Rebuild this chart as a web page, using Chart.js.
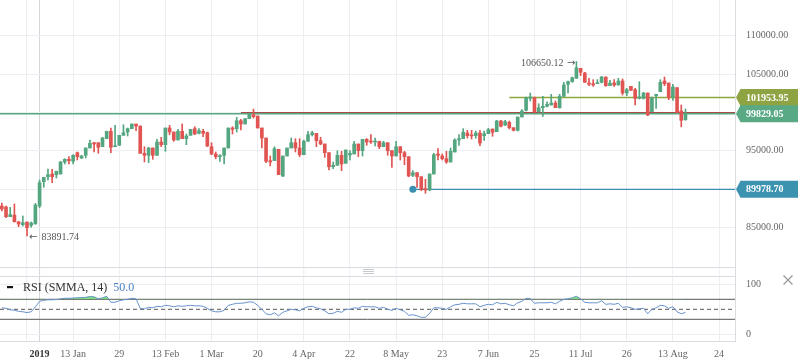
<!DOCTYPE html>
<html><head><meta charset="utf-8">
<script src="https://cdn.jsdelivr.net/npm/chart.js@4.4.1/dist/chart.umd.min.js"></script>
<style>
html,body{margin:0;padding:0;background:#fff;width:798px;height:363px;overflow:hidden}
canvas{position:absolute;left:0;display:block}
#c1{top:0}
#c2{top:268px}
</style></head><body>
<canvas id="c1" width="798" height="268"></canvas>
<canvas id="c2" width="798" height="95"></canvas>
<script>
// ---------- DATA ----------
const FIRST_INDEX = -9; // bar index of first candle (index 0 = first session of 2019)
const opens = [87807,87677,86413,86634,85761,85370,85722,85291,85461,
87807,90976,91628,91980,91889,91980,93545,93897,93636,94758,
94067,94419,95371,96062,96062,95541,96584,97549,95541,95723,
97027,97457,97887,98500,98240,94680,94419,95371,94419,96153,
95801,97979,97457,96414,97549,96584,97027,97887,97287,97549,
97366,95541,94588,94236,94419,95371,97979,97887,98931,98500,
99192,99713,99544,97979,96675,93715,93715,95202,91720,94328,
95371,96062,95371,94497,96245,97105,97287,96323,95892,94758,
92932,93115,94419,93376,94458,94588,95892,95019,96506,96245,
96153,96245,95541,96062,95019,94328,95541,94758,94236,91811,
92150,91628,90064,89894,91980,94588,94328,93975,93545,94849,
96414,96584,97327,97000,96975,97327,96975,97235,97848,97496,
98892,98370,98722,98017,97679,99413,100287,101852,101930,100105,
100626,100809,100978,101239,100626,102113,103677,104017,104460,105764,
105151,103847,103756,103756,103938,104629,103495,103847,103586,104108,
102543,103416,102973,101852,101852,102543,100105,102191,102713,104108,
103847,102021,103234,100196,99061];
const highs = [88199,87807,87630,88068,85761,86504,85722,85722,88150,
91198,91550,92632,92593,92370,93636,93975,94236,94497,94849,
94419,95371,96414,96062,96062,96767,97549,97979,98331,97027,
98409,97979,98500,98500,98240,95541,95463,95371,96506,96767,
97979,98331,97457,97809,98500,97196,97809,98148,97887,97809,
97457,96062,94849,94497,95371,97979,98148,99374,99113,99192,
99900,100438,99544,97979,96675,94328,95541,95202,94328,95371,
96675,96584,96584,96414,97549,97549,97287,96767,95892,94758,
93545,95019,94940,95110,95019,96245,95892,96506,96584,97105,
96675,96245,96245,96062,95019,96245,95541,94940,94236,92411,
92150,91628,91290,91980,94680,95280,94588,94940,95371,96584,
97105,97887,97679,97679,97587,97679,97587,97940,97848,98983,
98983,98983,98892,98017,99413,100365,102021,102543,102021,101148,
102113,101400,102373,101500,102373,103938,104108,104629,106650.12,105764,
105242,104460,104280,104280,104720,104629,104200,104280,104460,104370,
103155,103416,103155,104017,102630,102543,102021,102373,104280,104629,
103847,103677,103234,100978,100456];
const lows = [87156,86300,86413,85700,85108,85200,83891.74,85030,85461,
87586,90246,91198,90846,91450,91980,93284,93284,93284,93806,
93975,94067,95371,94849,94680,95541,96584,94758,95541,95723,
97027,96936,97887,97627,94680,93545,93454,93897,94419,95541,
94940,97105,96245,96414,96584,95801,97027,97105,97196,96845,
95541,94497,93975,93636,93284,95371,97196,97457,97718,98500,
99192,99283,97979,95371,93454,93024,93715,91889,91628,94328,
95371,94849,94236,94497,96245,96936,95541,95801,94158,92502,
92670,93115,92411,93376,93806,94588,94236,94328,95723,95984,
95632,95280,95541,94419,92854,94328,93806,93190,91628,91628,
90246,89801,89463,89801,91980,93806,93806,93376,93545,94849,
95723,96584,96675,96545,96636,95671,96375,97235,96897,97496,
98109,98280,97848,97588,97588,99413,100196,101500,99935,100027,
99505,100717,100978,100626,100548,102060,102543,103938,104460,104799,
103938,103495,103416,103756,103847,103416,103495,103416,103586,102282,
102191,102895,100978,101760,101760,99583,100105,100548,102713,103495,
101669,101591,99935,98130,98983];
const closes = [87416,86413,86673,85761,85461,85631,84978,85591,87938,
90846,91550,91889,91628,92332,93545,93897,93715,94419,94236,
94328,95371,95984,95892,95463,96675,97549,95463,95671,97027,
97366,97887,98500,98240,94680,94419,95371,94419,96153,95801,
97979,97457,96414,97549,96584,96936,97809,97196,97627,97287,
95632,94588,94236,94328,95371,97979,97809,98931,98500,99192,
99804,99453,97979,96675,93636,93545,95280,91889,94328,95371,
96062,95371,94497,96245,97105,97366,96323,95892,94758,92932,
93115,94419,93284,95110,94680,95892,95019,96506,96153,96153,
96245,95541,96062,95019,94328,95541,94758,94236,91720,92150,
91628,89985,89894,91980,94497,94419,93975,93545,94940,96414,
96584,97418,96975,96950,97327,96023,97235,97757,97418,98892,
98200,98800,98017,97679,99413,100196,101930,102021,100105,100626,
100809,101070,101239,100626,102113,103586,104017,104538,105842,105242,
103938,103677,103586,103847,104629,103495,103847,103586,104108,102543,
102973,102895,101852,102021,102543,99674,101930,102373,103938,103756,
101930,103325,100027,98983,99829.05];
const rsiValues = [53,52,49,48,46,45,43.5,45,55,
66,68,69,69,69.5,71,72,72,72.5,73,
73.5,74,75.5,75,71,73,76,64,64,67,
69,70,72,71,52,51,54,53,56,55,
58,57,55,57,56,57,58,57,57,56,
52,47,45,45,48,58,60,62,62,63,
65,64,58,50,41,39,43,37,44,47,
50,49,47,52,55,56,53,51,47,41,
42,46,44,50,50,53,52,56,55,55,
55,52,54,50,48,52,49,46,38,39,
37,34,34,42,53,53,52,50,55,59,
60,62,61,61,61,55,58,60,59,64,
61,62,59,57,63,66,72,71,62,63,
63,63,64,61,66,70,71,73,76,71,
64,63,63,63,67,60,61,60,62,54,
55,53,50,51,52,41,50,53,58,57,
52,55,45,41,44];
const yearLabel = "2019";
const xTickLabels = ["13 Jan","29","13 Feb","1 Mar","20","4 Apr","22","8 May","23","7 Jun","25","11 Jul","26","13 Aug","24"];
const priceGrid = [85000,90000,95000,100000,105000,110000];
const priceLabelsShown = [85000,95000,105000,110000];
const rsiTicks = [0,100];
const rsiBands = [30,50,70];
const rsiLastText = "50.0";
const levelLast = 99829.05, levelResist = 101953.95, levelSupport = 89978.70, levelRed = 99940;
const levelRedFrom = 48, levelResistFrom = 112, levelSupportFrom = 89;
const annotLow = 83891.74, annotLowIndex = -3;
const annotHigh = 106650.12, annotHighIndex = 128;

// ---------- LAYOUT / STYLE ----------
const X_MIN = -9.437, X_MAX = 165.81;
const Y_MAX = 114670, Y_MIN = 79723;
const GREEN = '#53a67f', RED = '#e05452';
const GRID = '#eceef1', FRAME = '#d9dde2';
const SERIF = '"Liberation Serif", "Times New Roman", serif';
const xTickValues = [-3, 0].concat(xTickLabels.map((_, k) => 8 + 11 * k));
function xLabel(v){ if (v === 0) return yearLabel; const k = (v - 8) / 11; return (Number.isInteger(k) && k >= 0 && k < xTickLabels.length) ? xTickLabels[k] : ''; }

const idx = opens.map((_, i) => FIRST_INDEX + i);
const candleColors = opens.map((o, i) => closes[i] >= o ? GREEN : RED);
const wickData = idx.map((x, i) => ({x, y: [lows[i], highs[i]]}));
const bodyData = idx.map((x, i) => ({x, y: [opens[i], closes[i]]}));
const rsiData = idx.map((x, i) => ({x, y: rsiValues[i]}));

function hline(from, v, color, w, dash){
  return {type:'line', data:[{x:from,y:v},{x:X_MAX,y:v}], borderColor:color, borderWidth:w, borderDash:dash||[], pointRadius:0, pointHoverRadius:0, fill:false, order:5};
}

function drawTag(ctx, y, color, text, left, right){
  ctx.beginPath();
  ctx.moveTo(left + 1, y);
  ctx.lineTo(left + 5.5, y - 8.5);
  ctx.lineTo(right, y - 8.5);
  ctx.lineTo(right, y + 8.5);
  ctx.lineTo(left + 5.5, y + 8.5);
  ctx.closePath();
  ctx.fillStyle = color; ctx.fill();
  ctx.fillStyle = '#ffffff';
  ctx.font = 'bold 10px ' + SERIF;
  ctx.textAlign = 'left'; ctx.textBaseline = 'middle';
  ctx.fillText(text, left + 11, y + 0.5);
}

const mainDecor = {
  id: 'mainDecor',
  afterDraw(chart){
    const {ctx, chartArea: a, scales: {x, y}} = chart;
    ctx.save();
    ctx.strokeStyle = FRAME; ctx.lineWidth = 1;
    ctx.beginPath();
    ctx.moveTo(0, a.bottom - 0.5); ctx.lineTo(a.right, a.bottom - 0.5);
    ctx.moveTo(a.right + 0.5, 0); ctx.lineTo(a.right + 0.5, chart.height);
    ctx.stroke();
    ctx.fillStyle = '#555'; ctx.textBaseline = 'middle';
    const lx = x.getPixelForValue(annotLowIndex) + 2, ly = y.getPixelForValue(annotLow) + 1;
    ctx.textAlign = 'left';
    ctx.font = '10px "DejaVu Sans", sans-serif';
    ctx.fillText('\u2190', lx, ly);
    ctx.font = '10px ' + SERIF;
    ctx.fillText(annotLow.toFixed(2), lx + 12.5, ly);
    const hx = x.getPixelForValue(annotHighIndex) - 1, hy = y.getPixelForValue(annotHigh) + 2;
    ctx.textAlign = 'right';
    ctx.font = '10px "DejaVu Sans", sans-serif';
    ctx.fillText('\u2192', hx, hy);
    ctx.font = '10px ' + SERIF;
    ctx.fillText(annotHigh.toFixed(2), hx - 12, hy);
    drawTag(ctx, y.getPixelForValue(levelResist), '#8ea342', levelResist.toFixed(2), a.right, chart.width);
    drawTag(ctx, y.getPixelForValue(levelLast), '#5aa985', levelLast.toFixed(2), a.right, chart.width);
    drawTag(ctx, y.getPixelForValue(levelSupport), '#3c93b0', levelSupport.toFixed(2), a.right, chart.width);
    ctx.restore();
  }
};

new Chart(document.getElementById('c1'), {
  type: 'bar',
  data: { datasets: [
    hline(X_MIN, levelLast, '#55a880', 1.5),
    hline(levelRedFrom, levelRed, '#ab4a4a', 2),
    hline(levelResistFrom, levelResist, '#8da640', 1.5),
    hline(levelSupportFrom, levelSupport, '#3b8fb0', 1.2),
    {type:'line', data:[{x:levelSupportFrom, y:levelSupport}], showLine:false, pointRadius:3.5, pointHoverRadius:3.5, pointBackgroundColor:'#3b8fb0', pointBorderWidth:0, order:0},
    {data: wickData, backgroundColor: candleColors, barThickness: 1, grouped: false, order: 2},
    {data: bodyData, backgroundColor: candleColors, barThickness: 3, minBarLength: 1, grouped: false, order: 1}
  ]},
  options: {
    responsive: false, animation: false, devicePixelRatio: 1, events: [],
    plugins: { legend: {display: false}, tooltip: {enabled: false} },
    layout: { padding: 0, autoPadding: false },
    scales: {
      x: { type: 'linear', min: X_MIN, max: X_MAX, offset: false,
        afterBuildTicks: s => { s.ticks = xTickValues.map(v => ({value: v})); },
        ticks: { display: false },
        grid: { offset: false, drawTicks: false, color: c => (c.tick && c.tick.value === 0) ? '#d3d7dc' : GRID },
        border: { display: false },
        afterFit: s => { s.height = 0; s.paddingLeft = 0; s.paddingRight = 0; } },
      y: { type: 'linear', position: 'right', min: Y_MIN, max: Y_MAX,
        afterBuildTicks: s => { s.ticks = priceGrid.map(v => ({value: v})); },
        ticks: { callback: v => priceLabelsShown.includes(v) ? v.toFixed(2) : '', padding: 11, color: '#666', font: {family: SERIF, size: 10} },
        grid: { color: GRID, drawTicks: false },
        border: { display: false },
        afterFit: s => { s.width = 63; s.paddingTop = 0; s.paddingBottom = 0; } }
    }
  },
  plugins: [mainDecor]
});

const rsiDecor = {
  id: 'rsiDecor',
  beforeDatasetsDraw(chart){
    const {ctx, chartArea: a, scales: {x}} = chart;
    ctx.save();
    ctx.lineWidth = 1;
    xTickValues.forEach(v => {
      const px = x.getPixelForValue(v);
      ctx.strokeStyle = v === 0 ? '#d3d7dc' : GRID;
      ctx.beginPath(); ctx.moveTo(px, 0); ctx.lineTo(px, a.top); ctx.stroke();
    });
    ctx.restore();
  },
  afterDraw(chart){
    const {ctx, chartArea: a} = chart;
    ctx.save();
    ctx.strokeStyle = FRAME; ctx.lineWidth = 1;
    ctx.beginPath();
    ctx.moveTo(0, Math.round(a.top) + 0.5); ctx.lineTo(a.right, Math.round(a.top) + 0.5);
    ctx.moveTo(0, Math.round(a.bottom) - 0.5); ctx.lineTo(a.right, Math.round(a.bottom) - 0.5);
    ctx.moveTo(a.right + 0.5, 0); ctx.lineTo(a.right + 0.5, a.bottom);
    ctx.stroke();
    // drag handle
    ctx.strokeStyle = '#c6c9cd';
    ctx.beginPath();
    [1.5, 3.5, 5.5].forEach(yy => { ctx.moveTo(363, yy); ctx.lineTo(374, yy); });
    ctx.stroke();
    // close cross
    ctx.strokeStyle = '#999'; ctx.lineWidth = 1.2;
    ctx.beginPath();
    ctx.moveTo(783.5, 7.5); ctx.lineTo(792.5, 16.5);
    ctx.moveTo(792.5, 7.5); ctx.lineTo(783.5, 16.5);
    ctx.stroke();
    // legend
    ctx.fillStyle = '#111'; ctx.fillRect(7, 18, 6, 2.2);
    ctx.font = '12px ' + SERIF; ctx.textBaseline = 'middle'; ctx.textAlign = 'left';
    ctx.fillStyle = '#333';
    const t = 'RSI (SMMA, 14)';
    ctx.fillText(t, 23, 19.5);
    const w = ctx.measureText(t).width;
    ctx.fillStyle = '#4d80c4';
    ctx.fillText(rsiLastText, 23 + w + 6, 19.5);
    ctx.restore();
  }
};

new Chart(document.getElementById('c2'), {
  type: 'line',
  data: { datasets: [
    {data: rsiData, borderColor: '#6892cc', borderWidth: 1, pointRadius: 0, pointHoverRadius: 0, tension: 0,
     fill: {target: {value: 70}, above: 'rgba(112,222,112,0.9)', below: 'rgba(0,0,0,0)'}, order: 0},
    {data: [{x:X_MIN,y:rsiBands[2]},{x:X_MAX,y:rsiBands[2]}], borderColor:'#555', borderWidth:1, pointRadius:0, pointHoverRadius:0, fill:false, order:1},
    {data: [{x:X_MIN,y:rsiBands[0]},{x:X_MAX,y:rsiBands[0]}], borderColor:'#555', borderWidth:1, pointRadius:0, pointHoverRadius:0, fill:false, order:1},
    {data: [{x:X_MIN,y:rsiBands[1]},{x:X_MAX,y:rsiBands[1]}], borderColor:'#555', borderWidth:1, borderDash:[4,3], pointRadius:0, pointHoverRadius:0, fill:false, order:1}
  ]},
  options: {
    responsive: false, animation: false, devicePixelRatio: 1, events: [],
    plugins: { legend: {display: false}, tooltip: {enabled: false} },
    layout: { padding: {top: 7.7, left: 0, right: 0, bottom: 0}, autoPadding: false },
    scales: {
      x: { type: 'linear', min: X_MIN, max: X_MAX, offset: false,
        afterBuildTicks: s => { s.ticks = xTickValues.map(v => ({value: v})); },
        ticks: { autoSkip: false, maxRotation: 0, padding: 5.7, callback: v => xLabel(v),
          color: c => (c.tick && c.tick.value === 0) ? '#333' : '#666',
          font: c => (c.tick && c.tick.value === 0) ? {family: SERIF, size: 10, weight: 'bold'} : {family: SERIF, size: 10} },
        grid: { drawTicks: false, color: c => (c.tick && c.tick.value === 0) ? '#d3d7dc' : GRID },
        border: { display: false },
        afterFit: s => { s.height = 20.7; s.paddingLeft = 0; s.paddingRight = 0; } },
      y: { type: 'linear', position: 'right', min: -16, max: 117.2,
        afterBuildTicks: s => { s.ticks = rsiTicks.map(v => ({value: v})); },
        ticks: { callback: v => String(v), padding: 11, color: '#666', font: {family: SERIF, size: 10} },
        grid: { color: GRID, drawTicks: false },
        border: { display: false },
        afterFit: s => { s.width = 63; s.paddingTop = 0; s.paddingBottom = 0; } }
    }
  },
  plugins: [rsiDecor]
});
</script>
</body></html>
